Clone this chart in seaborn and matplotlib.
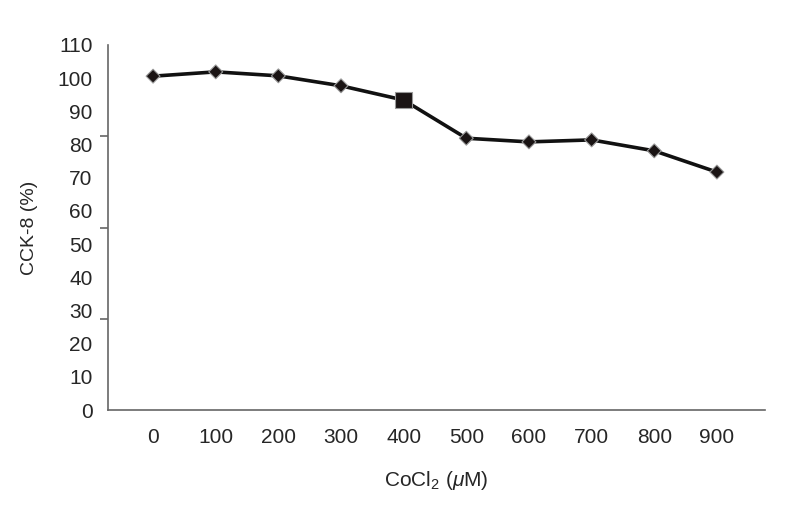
"""CCK-8 viability vs CoCl2 concentration."""

import matplotlib

matplotlib.use("Agg")

import matplotlib.pyplot as plt
import numpy as np
import pandas as pd
import seaborn as sns

conc = [0, 100, 200, 300, 400, 500, 600, 700, 800, 900]
viability = [100.6, 101.9, 100.7, 97.7, 93.4, 81.9, 80.8, 81.4, 78.1, 71.7]
marker_kind = ["d", "d", "d", "d", "s", "d", "d", "d", "d", "d"]
y_labels = list(range(0, 111, 10))

df = pd.DataFrame({"conc": conc, "viability": viability, "kind": marker_kind})

sns.set_style("white")
plt.rcParams["font.family"] = ["Liberation Sans", "DejaVu Sans"]
plt.rcParams["mathtext.fontset"] = "custom"
plt.rcParams["mathtext.rm"] = "Liberation Sans"
plt.rcParams["mathtext.it"] = "Liberation Sans:italic"

fig = plt.figure(figsize=(7.88, 5.23), dpi=100)
ax = fig.add_axes([0.137, 0.216, 0.834, 0.698])

sns.lineplot(data=df, x="conc", y="viability", ax=ax, color="#111111",
             linewidth=2.6, zorder=2)
sns.scatterplot(data=df, x="conc", y="viability", style="kind",
                markers={"d": "D", "s": "s"}, ax=ax, color="#1a1414",
                edgecolor="#999999", linewidth=0.8, legend=False, zorder=3,
                size="kind", sizes={"d": 50, "s": 140})

ax.set_xlim(-72, 977)
ax.set_ylim(0, 110)
ax.set_xticks(conc)
ax.set_xticklabels([str(c) for c in conc], fontsize=15)
ax.tick_params(axis="x", length=0, pad=13)

ax.set_yticks(y_labels)
ax.set_yticklabels([str(v) for v in y_labels], fontsize=15)
ax.set_yticks(np.linspace(0, 110, 5), minor=True)
ax.tick_params(axis="y", which="major", length=0, pad=11)
ax.tick_params(axis="y", which="minor", length=6, width=1.2,
               color="#666666", left=True, direction="out")

for side in ["top", "right"]:
    ax.spines[side].set_visible(False)
for side in ["left", "bottom"]:
    ax.spines[side].set_color("#666666")
    ax.spines[side].set_linewidth(1.2)

ax.set_xlabel("CoCl$_2$ ($\\mathit{\\mu}$M)", fontsize=15, labelpad=16)
ax.set_ylabel("CCK-8 (%)", fontsize=14, labelpad=14)

fig.savefig("out.png", dpi=100)
plt.close(fig)
